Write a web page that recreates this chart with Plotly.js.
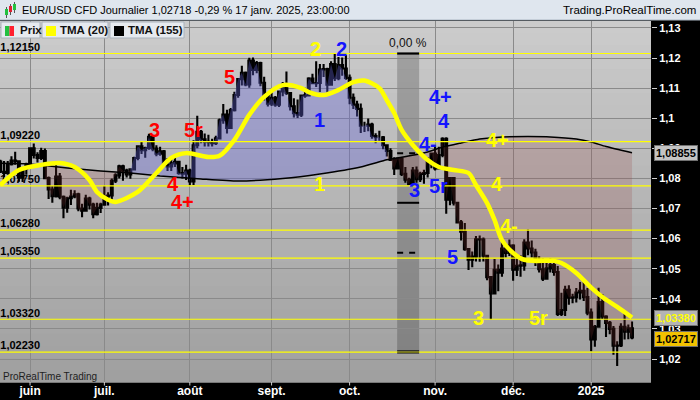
<!DOCTYPE html>
<html>
<head>
<meta charset="utf-8">
<script src="https://cdn.plot.ly/plotly-3.0.1.min.js"></script>
<style>
  html, body { margin: 0; padding: 0; background: #000; }
  #chart { width: 700px; height: 400px; }
</style>
</head>
<body>
<div id="chart"></div>
<script>
// --- Daily candles (EUR/USD CFD) ---
const DATES = [
  '2024-05-22','2024-05-23','2024-05-24','2024-05-27','2024-05-28','2024-05-29','2024-05-30','2024-05-31',
  '2024-06-03','2024-06-04','2024-06-05','2024-06-06','2024-06-07','2024-06-10','2024-06-11','2024-06-12','2024-06-13','2024-06-14','2024-06-17','2024-06-18','2024-06-19','2024-06-20','2024-06-21','2024-06-24','2024-06-25','2024-06-26','2024-06-27','2024-06-28',
  '2024-07-01','2024-07-02','2024-07-03','2024-07-04','2024-07-05','2024-07-08','2024-07-09','2024-07-10','2024-07-11','2024-07-12','2024-07-15','2024-07-16','2024-07-17','2024-07-18','2024-07-19','2024-07-22','2024-07-23','2024-07-24','2024-07-25','2024-07-26','2024-07-29','2024-07-30','2024-07-31',
  '2024-08-01','2024-08-02','2024-08-05','2024-08-06','2024-08-07','2024-08-08','2024-08-09','2024-08-12','2024-08-13','2024-08-14','2024-08-15','2024-08-16','2024-08-19','2024-08-20','2024-08-21','2024-08-22','2024-08-23','2024-08-26','2024-08-27','2024-08-28','2024-08-29','2024-08-30',
  '2024-09-02','2024-09-03','2024-09-04','2024-09-05','2024-09-06','2024-09-09','2024-09-10','2024-09-11','2024-09-12','2024-09-13','2024-09-16','2024-09-17','2024-09-18','2024-09-19','2024-09-20','2024-09-23','2024-09-24','2024-09-25','2024-09-26','2024-09-27','2024-09-30',
  '2024-10-01','2024-10-02','2024-10-03','2024-10-04','2024-10-07','2024-10-08','2024-10-09','2024-10-10','2024-10-11','2024-10-14','2024-10-15','2024-10-16','2024-10-17','2024-10-18','2024-10-21','2024-10-22','2024-10-23','2024-10-24','2024-10-25','2024-10-28','2024-10-29','2024-10-30','2024-10-31',
  '2024-11-01','2024-11-04','2024-11-05','2024-11-06','2024-11-07','2024-11-08','2024-11-11','2024-11-12','2024-11-13','2024-11-14','2024-11-15','2024-11-18','2024-11-19','2024-11-20','2024-11-21','2024-11-22','2024-11-25','2024-11-26','2024-11-27','2024-11-28','2024-11-29',
  '2024-12-02','2024-12-03','2024-12-04','2024-12-05','2024-12-06','2024-12-09','2024-12-10','2024-12-11','2024-12-12','2024-12-13','2024-12-16','2024-12-17','2024-12-18','2024-12-19','2024-12-20','2024-12-23','2024-12-24','2024-12-26','2024-12-27','2024-12-30','2024-12-31',
  '2025-01-02','2025-01-03','2025-01-06','2025-01-07','2025-01-08','2025-01-09','2025-01-10','2025-01-13','2025-01-14','2025-01-15','2025-01-16','2025-01-17'
];
const OPEN = [
  1.0856,1.0822,1.0818,1.0847,1.0859,1.0857,1.0802,1.0833,
  1.0848,1.0900,1.0878,1.0868,1.0891,1.0801,1.0763,1.0741,1.0806,1.0739,1.0703,1.0734,1.0740,1.0747,1.0700,1.0693,1.0733,1.0713,1.0681,1.0702,
  1.0713,1.0740,1.0743,1.0792,1.0810,1.0840,1.0826,1.0813,1.0830,1.0868,1.0907,1.0894,1.0901,1.0938,1.0899,1.0882,1.0890,1.0845,1.0840,1.0850,1.0855,1.0818,1.0816,
  1.0826,1.0790,1.0910,1.0955,1.0930,1.0922,1.0920,1.0917,1.0933,1.0993,1.1012,1.0968,1.1027,1.1077,1.1130,1.1151,1.1112,1.1192,1.1160,1.1183,1.1118,1.1077,
  1.1048,1.1068,1.1045,1.1089,1.1111,1.1084,1.1040,1.1017,1.1012,1.1075,1.1076,1.1132,1.1116,1.1117,1.1162,1.1163,1.1111,1.1180,1.1133,1.1177,1.1165,
  1.1134,1.1068,1.1045,1.1031,1.0975,1.0975,1.0979,1.0941,1.0937,1.0937,1.0910,1.0891,1.0861,1.0833,1.0866,1.0815,1.0796,1.0781,1.0826,1.0797,1.0815,1.0818,1.0856,
  1.0883,1.0833,1.0878,1.0932,1.0729,1.0801,1.0719,1.0654,1.0623,1.0565,1.0530,1.0540,1.0598,1.0597,1.0543,1.0472,1.0418,1.0496,1.0487,1.0567,1.0552,
  1.0577,1.0497,1.0510,1.0511,1.0587,1.0567,1.0554,1.0526,1.0498,1.0467,1.0501,1.0512,1.0489,1.0350,1.0363,1.0430,1.0404,1.0405,1.0421,1.0427,1.0406,
  1.0354,1.0265,1.0307,1.0389,1.0341,1.0320,1.0300,1.0244,1.0245,1.0307,1.0291,1.0302
];
const HIGH = [
  1.0862,1.0858,1.0858,1.0874,1.0889,1.0860,1.0834,1.0852,
  1.0903,1.0916,1.0887,1.0902,1.0899,1.0806,1.0775,1.0852,1.0818,1.0743,1.0739,1.0762,1.0761,1.0752,1.0716,1.0746,1.0739,1.0719,1.0719,1.0719,
  1.0776,1.0754,1.0800,1.0817,1.0845,1.0845,1.0832,1.0832,1.0872,1.0910,1.0922,1.0905,1.0948,1.0944,1.0910,1.0905,1.0894,1.0868,1.0868,1.0871,1.0859,1.0838,1.0845,
  1.0832,1.0927,1.1008,1.0961,1.0949,1.0945,1.0932,1.0942,1.0999,1.1047,1.1028,1.1034,1.1088,1.1133,1.1174,1.1155,1.1201,1.1202,1.1190,1.1188,1.1138,1.1087,
  1.1086,1.1074,1.1091,1.1120,1.1155,1.1086,1.1066,1.1062,1.1079,1.1101,1.1136,1.1148,1.1189,1.1180,1.1180,1.1168,1.1189,1.1214,1.1203,1.1202,1.1209,
  1.1145,1.1082,1.1058,1.1049,1.0988,1.0999,1.0985,1.0950,1.0958,1.0941,1.0910,1.0900,1.0870,1.0869,1.0867,1.0838,1.0802,1.0838,1.0840,1.0822,1.0829,1.0870,1.0885,
  1.0905,1.0905,1.0937,1.0937,1.0805,1.0804,1.0722,1.0662,1.0652,1.0568,1.0557,1.0609,1.0610,1.0604,1.0546,1.0476,1.0532,1.0514,1.0589,1.0574,1.0597,
  1.0581,1.0540,1.0545,1.0598,1.0630,1.0594,1.0566,1.0541,1.0535,1.0521,1.0535,1.0519,1.0509,1.0420,1.0443,1.0445,1.0417,1.0436,1.0456,1.0457,1.0436,
  1.0368,1.0313,1.0437,1.0416,1.0345,1.0326,1.0310,1.0259,1.0319,1.0353,1.0315,1.0325
];
const LOW = [
  1.0818,1.0805,1.0812,1.0843,1.0845,1.0789,1.0788,1.0812,
  1.0836,1.0866,1.0853,1.0861,1.0797,1.0732,1.0719,1.0737,1.0731,1.0668,1.0686,1.0712,1.0734,1.0691,1.0671,1.0691,1.0697,1.0668,1.0677,1.0685,
  1.0710,1.0710,1.0730,1.0785,1.0800,1.0792,1.0803,1.0799,1.0828,1.0860,1.0881,1.0869,1.0895,1.0890,1.0874,1.0875,1.0838,1.0825,1.0825,1.0838,1.0812,1.0800,1.0795,
  1.0777,1.0778,1.0900,1.0917,1.0906,1.0906,1.0906,1.0911,1.0929,1.0982,1.0949,1.0968,1.1022,1.1068,1.1109,1.1106,1.1101,1.1143,1.1149,1.1106,1.1059,1.1039,
  1.1041,1.1038,1.1037,1.1073,1.1077,1.1026,1.1002,1.1001,1.1004,1.1068,1.1072,1.1114,1.1104,1.1087,1.1137,1.1083,1.1108,1.1124,1.1126,1.1141,1.1128,
  1.1046,1.1031,1.1006,1.0951,1.0954,1.0957,1.0932,1.0917,1.0925,1.0897,1.0873,1.0858,1.0811,1.0830,1.0808,1.0786,1.0780,1.0781,1.0786,1.0788,1.0782,1.0803,1.0834,
  1.0826,1.0830,1.0870,1.0683,1.0711,1.0710,1.0653,1.0594,1.0560,1.0496,1.0505,1.0524,1.0523,1.0524,1.0462,1.0332,1.0418,1.0425,1.0473,1.0537,1.0542,
  1.0460,1.0476,1.0473,1.0493,1.0545,1.0537,1.0509,1.0487,1.0459,1.0467,1.0487,1.0477,1.0343,1.0343,1.0343,1.0380,1.0385,1.0388,1.0398,1.0393,1.0345,
  1.0226,1.0241,1.0306,1.0333,1.0273,1.0282,1.0214,1.0177,1.0240,1.0265,1.0266,1.0266
];
const CLOSE = [
  1.0822,1.0818,1.0847,1.0859,1.0857,1.0802,1.0833,1.0848,
  1.0900,1.0878,1.0868,1.0891,1.0801,1.0763,1.0741,1.0806,1.0739,1.0703,1.0734,1.0740,1.0747,1.0700,1.0693,1.0733,1.0713,1.0681,1.0702,1.0713,
  1.0740,1.0743,1.0792,1.0810,1.0840,1.0826,1.0813,1.0830,1.0868,1.0907,1.0894,1.0901,1.0938,1.0899,1.0882,1.0890,1.0845,1.0840,1.0850,1.0855,1.0818,1.0816,1.0826,
  1.0790,1.0910,1.0955,1.0930,1.0922,1.0920,1.0917,1.0933,1.0993,1.1012,1.0968,1.1027,1.1077,1.1130,1.1151,1.1112,1.1192,1.1160,1.1183,1.1118,1.1077,1.1048,
  1.1068,1.1045,1.1089,1.1111,1.1084,1.1040,1.1017,1.1012,1.1075,1.1076,1.1132,1.1116,1.1117,1.1162,1.1163,1.1111,1.1180,1.1133,1.1177,1.1165,1.1134,
  1.1068,1.1045,1.1031,1.0975,1.0975,1.0979,1.0941,1.0937,1.0937,1.0910,1.0891,1.0861,1.0833,1.0866,1.0815,1.0796,1.0781,1.0826,1.0797,1.0815,1.0818,1.0856,1.0883,
  1.0833,1.0878,1.0932,1.0729,1.0801,1.0719,1.0654,1.0623,1.0565,1.0530,1.0540,1.0598,1.0597,1.0543,1.0472,1.0418,1.0496,1.0487,1.0567,1.0552,1.0577,
  1.0497,1.0510,1.0511,1.0587,1.0567,1.0554,1.0526,1.0498,1.0467,1.0501,1.0512,1.0489,1.0350,1.0363,1.0430,1.0404,1.0405,1.0421,1.0427,1.0406,1.0354,
  1.0265,1.0307,1.0389,1.0341,1.0320,1.0300,1.0244,1.0245,1.0307,1.0291,1.0302,1.02717
];

// --- Moving averages, read at sample dates ---
const TMA20_DATES = [
  '2024-05-22','2024-05-29','2024-06-06','2024-06-13','2024-06-19','2024-06-25','2024-06-27','2024-07-02','2024-07-04','2024-07-12',
  '2024-07-19','2024-07-25','2024-07-31','2024-08-08','2024-08-13','2024-08-19','2024-08-23','2024-08-29','2024-09-05','2024-09-12',
  '2024-09-16','2024-09-20','2024-09-26','2024-10-02','2024-10-07','2024-10-11','2024-10-15','2024-10-17','2024-10-21','2024-10-24',
  '2024-10-30','2024-11-04','2024-11-08','2024-11-14','2024-11-18','2024-11-21','2024-11-25','2024-11-27','2024-12-02','2024-12-05',
  '2024-12-10','2024-12-17','2024-12-19','2024-12-26','2025-01-02','2025-01-07','2025-01-13','2025-01-17'
];
const TMA20 = [
  1.0778,1.0828,1.0845,1.0851,1.0838,1.0795,1.0755,1.0729,1.0722,1.0755,
  1.0818,1.0868,1.0884,1.0871,1.0875,1.0928,1.1011,1.1071,1.1110,1.1100,
  1.1087,1.1077,1.1094,1.1120,1.1125,1.1100,1.1060,1.1017,1.0961,1.0911,
  1.0861,1.0838,1.0828,1.0818,1.0778,1.0718,1.0662,1.0595,1.0552,1.0529,
  1.0526,1.0526,1.0519,1.0486,1.0437,1.0406,1.0373,1.0338
];
const TMA155_DATES = [
  '2024-05-22','2024-06-03','2024-06-07','2024-06-17','2024-06-28','2024-07-10','2024-07-22','2024-08-06','2024-08-20','2024-09-05',
  '2024-09-19','2024-10-04','2024-10-15','2024-10-17','2024-10-30','2024-11-05','2024-11-12','2024-11-19','2024-11-27','2024-12-06',
  '2024-12-16','2024-12-26','2025-01-02','2025-01-08','2025-01-17'
];
const TMA155 = [
  1.0850,1.0848,1.0843,1.0835,1.0825,1.0818,1.0808,1.0798,1.0791,1.0800,
  1.0815,1.0838,1.0862,1.0866,1.0888,1.0904,1.0918,1.0931,1.0938,1.0939,
  1.0938,1.0931,1.0921,1.0906,1.08855
];

// fill between price and TMA (155): above = blue, below = brown
const FILL_FROM = ['2024-06-07', '2024-07-10', '2024-10-15'];
const FILL_TO   = ['2024-07-10', '2024-10-15', '2025-01-17'];
const FILL_SIDE = ['down', 'up', 'down'];

// --- Horizontal levels drawn on the chart ---
const LEVELS = [1.12150, 1.09220, 1.07750, 1.06280, 1.05350, 1.03320, 1.02230];
const LEVEL_TEXT = ['1,12150', '1,09220', '1,07750', '1,06280', '1,05350', '1,03320', '1,02230'];

// percentage band (retracement tool)
const BAND_X = ['2024-10-17 19:00', '2024-10-25 17:00'];
const BAND_LEVELS = [1.1215, 1.0884, 1.0719, 1.0553, 1.0223];

// --- Wave labels ---
const WAVE_TEXT = ['5', '3', '5r', '4', '4+', '2', '1', '2', '1', '4+', '4', '4-', '3', '5r', '5', '4+', '4', '4-', '3', '5r'];
const WAVE_X = [
  '2024-08-15 19:00', '2024-07-18 14:00', '2024-08-01 22:00', '2024-07-25 12:00', '2024-07-29 22:00',
  '2024-09-17 17:00', '2024-09-18 19:00', '2024-09-26 17:00', '2024-09-18 19:00',
  '2024-11-04 14:00', '2024-11-05 10:00', '2024-10-30 02:00', '2024-10-24 14:00', '2024-11-01 19:00', '2024-11-07 14:00',
  '2024-11-25 17:00', '2024-11-25 17:00', '2024-11-28 22:00', '2024-11-18 19:00', '2024-12-10 17:00'
];
const WAVE_Y = [
  1.1137, 1.0961, 1.0961, 1.0782, 1.0720,
  1.1230, 1.0782, 1.1230, 1.0994,
  1.1071, 1.0991, 1.0916, 1.0762, 1.0775, 1.0539,
  1.0928, 1.0782, 1.0642, 1.0337, 1.0337
];
const WAVE_COLOR = [
  'red', 'red', 'red', 'red', 'red',
  'yellow', 'yellow', 'blue', 'blue',
  'blue', 'blue', 'blue', 'blue', 'blue', 'blue',
  'yellow', 'yellow', 'yellow', 'yellow', 'yellow'
];

// axis ticks (first trading day of each month)
const MONTH_TICKS = ['2024-06-03', '2024-07-01', '2024-08-01', '2024-09-02', '2024-10-01', '2024-11-01', '2024-12-02', '2025-01-02'];
const MONTH_TEXT = ['juin', 'juil.', 'août', 'sept.', 'oct.', 'nov.', 'déc.', '2025'];
const PRICE_TICKS = [1.02, 1.03, 1.04, 1.05, 1.06, 1.07, 1.08, 1.09, 1.10, 1.11, 1.12, 1.13];
const PRICE_TEXT = ['1,02', '1,03', '1,04', '1,05', '1,06', '1,07', '1,08', '1,09', '1,1', '1,11', '1,12', '1,13'];

// --- Geometry helpers (pixel -> paper) ---
const W = 700, H = 400;
const M = { l: 0, r: 49, t: 21, b: 18 };
const PW = W - M.l - M.r, PH = H - M.t - M.b;
const px = x => (x - M.l) / PW;
const py = y => (H - M.b - y) / PH;

const FONT = 'Liberation Sans, Arial, sans-serif';
const WAVE_RGB = { red: '#ff0000', yellow: '#ffff00', blue: '#1414ff' };
const BLUE_FILL = 'rgba(100,100,215,0.36)';
const BROWN_FILL = 'rgba(150,60,60,0.2)';

// --- Traces ---
const fillTraces = FILL_FROM.map(function (from, s) {
  const to = FILL_TO[s];
  const xs = [], ys = [];
  DATES.forEach(function (d, i) {
    if (d >= from && d <= to) { xs.push(d); ys.push(CLOSE[i]); }
  });
  for (let i = TMA155_DATES.length - 1; i >= 0; i--) {
    const d = TMA155_DATES[i];
    if (d >= from && d <= to) { xs.push(d); ys.push(TMA155[i]); }
  }
  return {
    type: 'scatter', mode: 'lines', x: xs, y: ys, fill: 'toself',
    fillcolor: FILL_SIDE[s] === 'up' ? BLUE_FILL : BROWN_FILL,
    line: { width: 0 }, hoverinfo: 'skip'
  };
});

const levelLabels = {
  type: 'scatter', mode: 'text',
  x: LEVELS.map(() => DATES[0]), y: LEVELS, text: LEVEL_TEXT,
  textposition: 'top right',
  textfont: { family: FONT, size: 11, color: '#000', weight: 'bold' },
  hoverinfo: 'skip'
};

const candles = {
  type: 'candlestick', x: DATES, open: OPEN, high: HIGH, low: LOW, close: CLOSE,
  increasing: { line: { color: '#000', width: 2.1 }, fillcolor: '#2ee04a' },
  decreasing: { line: { color: '#000', width: 2.1 }, fillcolor: '#ff1a40' },
  whiskerwidth: 0, hoverinfo: 'skip'
};

const tma155 = {
  type: 'scatter', mode: 'lines', x: TMA155_DATES, y: TMA155,
  line: { color: '#000', width: 1.5, shape: 'spline', smoothing: 0.6 }, hoverinfo: 'skip'
};
const tma20 = {
  type: 'scatter', mode: 'lines', x: TMA20_DATES, y: TMA20,
  line: { color: '#ffff00', width: 4.5, shape: 'spline', smoothing: 0.8 }, hoverinfo: 'skip'
};

// --- Shapes ---
const shapes = [];
// plot background gradient
const BANDS = 30;
for (let i = 0; i < BANDS; i++) {
  const c = Math.round(203 - (i / (BANDS - 1)) * 43);
  shapes.push({
    type: 'rect', xref: 'paper', yref: 'paper', layer: 'below',
    x0: 0, x1: 1, y0: 1 - (i + 1) / BANDS - 0.002, y1: 1 - i / BANDS,
    fillcolor: 'rgb(' + c + ',' + c + ',' + c + ')', line: { width: 0 }
  });
}
// retracement band
shapes.push({
  type: 'rect', xref: 'x', yref: 'y', layer: 'below',
  x0: BAND_X[0], x1: BAND_X[1], y0: BAND_LEVELS[4], y1: BAND_LEVELS[0],
  fillcolor: 'rgba(0,0,0,0.2)', line: { width: 0 }
});
// yellow levels
LEVELS.forEach(function (v) {
  shapes.push({
    type: 'line', xref: 'paper', yref: 'y', x0: 0, x1: 1, y0: v, y1: v,
    line: { color: '#ffff00', width: 1.2 }
  });
});
// band marks
function bandLine(y, dash, width) {
  shapes.push({
    type: 'line', xref: 'x', yref: 'y', x0: BAND_X[0], x1: BAND_X[1], y0: y, y1: y,
    line: { color: '#000', width: width, dash: dash }
  });
}
bandLine(BAND_LEVELS[0], 'solid', 2.2);
bandLine(BAND_LEVELS[1], '6px,6px', 2);
bandLine(BAND_LEVELS[2], 'solid', 2);
bandLine(BAND_LEVELS[3], '6px,6px', 2);
bandLine(BAND_LEVELS[4] + 0.0004, 'solid', 1);
bandLine(BAND_LEVELS[4] - 0.0003, 'solid', 1);

// month tick marks on the black time band
MONTH_TICKS.forEach(function (d) {
  shapes.push({
    type: 'line', xref: 'x', yref: 'paper', x0: d, x1: d, y0: py(382), y1: py(385.5),
    line: { color: '#d0d0d0', width: 1 }
  });
});

// header bar
shapes.push({
  type: 'rect', xref: 'paper', yref: 'paper', x0: px(0), x1: px(700), y0: py(20), y1: py(0),
  fillcolor: '#dfe6ee', line: { width: 0 }
});
shapes.push({
  type: 'line', xref: 'paper', yref: 'paper', x0: px(0), x1: px(700), y0: py(20), y1: py(20),
  line: { color: '#aab6c2', width: 1 }
});
// header icon (little candles)
[[5, 8, 9, 15, '#22c040'], [9, 12, 6, 12, '#e02030'], [13, 16, 4, 10, '#22c040']].forEach(function (c) {
  shapes.push({
    type: 'line', xref: 'paper', yref: 'paper', x0: px((c[0] + c[1]) / 2), x1: px((c[0] + c[1]) / 2),
    y0: py(c[3] + 3), y1: py(c[2] - 2), line: { color: '#555', width: 1 }
  });
  shapes.push({
    type: 'rect', xref: 'paper', yref: 'paper', x0: px(c[0]), x1: px(c[1]), y0: py(c[3]), y1: py(c[2]),
    fillcolor: c[4], line: { width: 0 }
  });
});
// legend boxes
[[1, 40], [42, 108], [110, 184]].forEach(function (b) {
  shapes.push({
    type: 'rect', xref: 'paper', yref: 'paper', x0: px(b[0]), x1: px(b[1]), y0: py(38), y1: py(22),
    fillcolor: '#e6eaef', line: { color: '#a9b2bc', width: 1 }
  });
});
[[5, 9.5, '#22c040'], [9.5, 14, '#ff2030'], [46, 56, '#ffff00'], [114, 124, '#000']].forEach(function (s) {
  shapes.push({
    type: 'rect', xref: 'paper', yref: 'paper', x0: px(s[0]), x1: px(s[1]), y0: py(36), y1: py(26),
    fillcolor: s[2], line: { width: 0 }
  });
});

// --- Annotations ---
const annotations = [];
function paperText(text, x, y, size, opts) {
  annotations.push(Object.assign({
    text: text, xref: 'paper', yref: 'paper', x: px(x), y: py(y),
    xanchor: 'left', yanchor: 'middle', showarrow: false,
    font: { family: FONT, size: size, color: '#000' }
  }, opts || {}));
}
const LEGEND_FONT = { family: FONT, size: 11.5, color: '#111', weight: 'bold' };
paperText('EUR/USD CFD Journalier 1,02718 -0,29 % 17 janv. 2025, 23:00:00', 20, 10, 11);
paperText('Trading.ProRealTime.com', 698, 10, 11.5, { xanchor: 'right' });
paperText('Prix', 17.5, 30.5, 11.5, { font: LEGEND_FONT });
paperText('TMA (20)', 58, 30.5, 11.5, { font: LEGEND_FONT });
paperText('TMA (155)', 126, 30.5, 11.5, { font: LEGEND_FONT });
paperText('ProRealTime Trading', 1, 376, 10, { font: { family: FONT, size: 10, color: '#1e1e1e' } });

annotations.push({
  text: '0,00 %', xref: 'x', yref: 'y', x: '2024-10-22 17:00', y: BAND_LEVELS[0],
  xanchor: 'center', yanchor: 'bottom', yshift: 2, showarrow: false,
  font: { family: FONT, size: 12, color: '#111' }
});

WAVE_TEXT.forEach(function (t, i) {
  annotations.push({
    text: t, xref: 'x', yref: 'y', x: WAVE_X[i], y: WAVE_Y[i],
    xanchor: 'center', yanchor: 'middle', showarrow: false,
    font: { family: FONT, size: 20, color: WAVE_RGB[WAVE_COLOR[i]], weight: 'bold' }
  });
});

// right-axis value tags
function valueTag(text, y, bg, fg) {
  annotations.push({
    text: text, xref: 'paper', yref: 'y', x: px(654), y: y,
    xanchor: 'left', yanchor: 'middle', showarrow: false,
    bgcolor: bg, bordercolor: '#707070', borderwidth: 1, borderpad: 1,
    font: { family: FONT, size: 11, color: fg, weight: 'bold' }
  });
}
valueTag('1,08855', TMA155[TMA155.length - 1], '#c4c4c4', '#000');
valueTag('1,03380', TMA20[TMA20.length - 1] - 0.0003, '#b4b4b4', '#ffff00');
valueTag('1,02717', CLOSE[CLOSE.length - 1] - 0.0004, '#f2c200', '#000');

// --- Layout ---
const layout = {
  width: W, height: H,
  margin: M,
  paper_bgcolor: '#000',
  plot_bgcolor: '#b8b8b8',
  showlegend: false,
  font: { family: FONT },
  xaxis: {
    type: 'date',
    range: ['2024-05-21 22:00', '2025-01-24 02:30'],
    rangebreaks: [{ bounds: ['sat', 'mon'] }, { values: ['2024-12-25', '2025-01-01'] }],
    rangeslider: { visible: false },
    tickmode: 'array', tickvals: MONTH_TICKS, ticktext: MONTH_TEXT,
    ticks: '',
    tickfont: { family: FONT, size: 12, color: '#fff', weight: 'bold' },
    showgrid: true, gridcolor: '#8a8a8a', gridwidth: 1,
    zeroline: false, showline: false, fixedrange: true
  },
  yaxis: {
    side: 'right',
    range: [1.01236, 1.1323],
    tickmode: 'array', tickvals: PRICE_TICKS, ticktext: PRICE_TEXT,
    ticks: 'outside', ticklen: 5, tickcolor: '#cfcfcf',
    tickfont: { family: FONT, size: 11, color: '#fff', weight: 'bold' },
    showgrid: true, gridcolor: '#8a8a8a', gridwidth: 1,
    zeroline: false, showline: false, fixedrange: true
  },
  shapes: shapes,
  annotations: annotations
};

Plotly.newPlot('chart', fillTraces.concat([levelLabels, candles, tma155, tma20]), layout, {
  staticPlot: true, displayModeBar: false, responsive: false
});
</script>
</body>
</html>
